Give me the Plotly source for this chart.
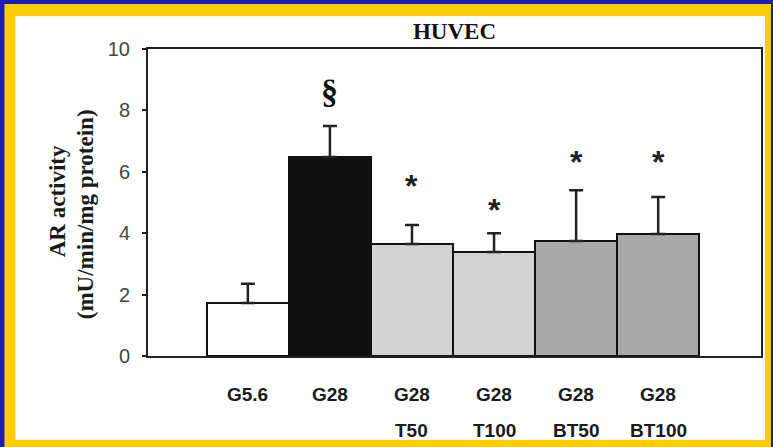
import plotly.graph_objects as go

# AR activity in HUVEC, mean and upper SD
groups_top = ["G5.6", "G28", "G28", "G28", "G28", "G28"]
groups_bottom = ["", "", "T50", "T100", "BT50", "BT100"]
ar_mean = [1.73, 6.48, 3.65, 3.39, 3.75, 3.97]
ar_sd = [0.62, 1.01, 0.62, 0.61, 1.65, 1.21]
sig_marks = ["", "§", "*", "*", "*", "*"]
sig_height = [0.0, 8.62, 5.78, 4.98, 6.55, 6.55]

bar_fill = ["#ffffff", "#111111", "#d2d2d2", "#d2d2d2", "#a9a9a9", "#a9a9a9"]

W, H = 773, 447
L, R, T, B = 148, 10, 49, 91
PW, PH = W - L - R, H - T - B


def fx(px):
    return (px - L) / PW


def fy(py):
    return (H - B - py) / PH


x_idx = list(range(len(ar_mean)))

fig = go.Figure()
fig.add_trace(go.Bar(
    x=x_idx,
    y=ar_mean,
    width=1.0,
    marker=dict(color=bar_fill, line=dict(color="#111111", width=2)),
    error_y=dict(
        type="data",
        symmetric=False,
        array=ar_sd,
        arrayminus=[0] * len(ar_sd),
        color="#222222",
        thickness=2.5,
        width=7,
    ),
    showlegend=False,
))

annotations = []
# significance marks above the bars
for i, (m, h) in enumerate(zip(sig_marks, sig_height)):
    if not m:
        continue
    if m == "§":
        font = dict(family="Liberation Serif", size=34, color="#111111")
        txt = "<b>§</b>"
        shift = 0
    else:
        font = dict(family="Liberation Sans", size=32, color="#222222")
        txt = "<b>*</b>"
        shift = -7
    annotations.append(dict(
        x=i, y=h, xref="x", yref="y", text=txt, showarrow=False,
        font=font, xanchor="center", yanchor="middle", yshift=shift,
    ))

# two-row group labels under the axis
for i, (a, b) in enumerate(zip(groups_top, groups_bottom)):
    lab_font = dict(family="Liberation Sans", size=19, color="#1a1a1a")
    annotations.append(dict(
        x=i, y=fy(394), xref="x", yref="paper", text="<b>%s</b>" % a,
        showarrow=False, font=lab_font, xanchor="center", yanchor="middle",
    ))
    if b:
        annotations.append(dict(
            x=i, y=fy(430), xref="x", yref="paper", text="<b>%s</b>" % b,
            showarrow=False, font=lab_font, xanchor="center", yanchor="middle",
        ))

# y-axis title in two lines
ytitle_font = dict(family="Liberation Serif", size=23, color="#1a1a1a")
annotations.append(dict(
    x=fx(57), y=fy(201), xref="paper", yref="paper", text="<b>AR activity</b>",
    showarrow=False, textangle=-90, font=ytitle_font,
    xanchor="center", yanchor="middle",
))
annotations.append(dict(
    x=fx(85), y=fy(214), xref="paper", yref="paper",
    text="<b>(mU/min/mg protein)</b>",
    showarrow=False, textangle=-90, font=ytitle_font,
    xanchor="center", yanchor="middle",
))

# framed background: blue edge, yellow band, white panel
shapes = [
    dict(type="rect", xref="paper", yref="paper", layer="below",
         x0=fx(4), x1=fx(W), y0=fy(H), y1=fy(4),
         fillcolor="#ffcc00", line=dict(width=0)),
    dict(type="rect", xref="paper", yref="paper", layer="below",
         x0=fx(15), x1=fx(767), y0=fy(440), y1=fy(16),
         fillcolor="#ffffff", line=dict(width=0)),
]

fig.update_layout(
    width=W, height=H,
    margin=dict(l=L, r=R, t=T, b=B, pad=0),
    paper_bgcolor="#1c1cb0",
    plot_bgcolor="rgba(0,0,0,0)",
    bargap=0,
    title=dict(
        text="<b>HUVEC</b>", x=0.5, xref="paper", xanchor="center",
        y=1 - 31 / H, yref="container", yanchor="middle",
        font=dict(family="Liberation Serif", size=23, color="#111111"),
    ),
    xaxis=dict(
        range=[-1.217, 6.253], showticklabels=False, ticks="",
        showgrid=False, zeroline=False,
        showline=True, linecolor="#222222", linewidth=2, mirror=True,
    ),
    yaxis=dict(
        range=[0, 10], tickvals=[0, 2, 4, 6, 8, 10],
        ticks="outside", ticklen=4, tickwidth=1.5, tickcolor="#222222",
        ticklabelstandoff=8,
        tickfont=dict(family="Liberation Sans", size=20, color="#444444"),
        showgrid=False, zeroline=False,
        showline=True, linecolor="#222222", linewidth=2, mirror=True,
    ),
    annotations=annotations,
    shapes=shapes,
)

fig.write_html("out.html")
